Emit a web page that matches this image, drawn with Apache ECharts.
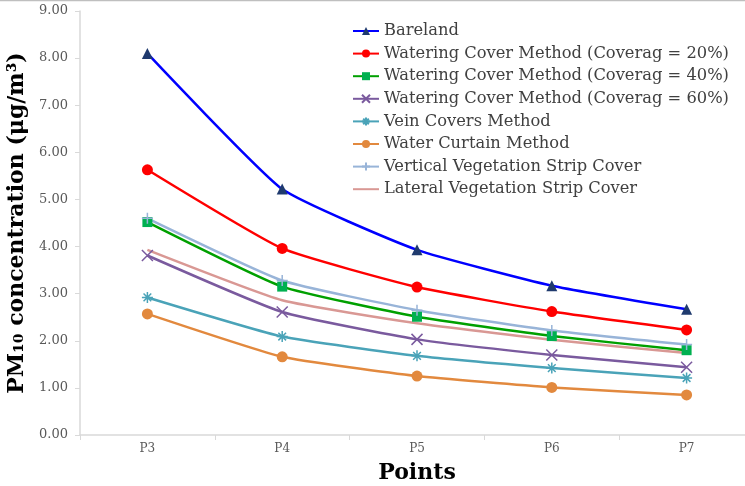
<!DOCTYPE html>
<html><head><meta charset="utf-8">
<script src="https://cdn.jsdelivr.net/npm/echarts@6/dist/echarts.min.js"></script>
<style>html,body{margin:0;padding:0;background:#fff}#c{width:745px;height:486px}</style>
</head><body><div id="c"></div>
<script>
const categories = ['P3','P4','P5','P6','P7'];
const yTicks = [0,1,2,3,4,5,6,7,8,9];
const bareland = [8.10, 5.22, 3.93, 3.17, 2.67];
const cover20 = [5.63, 3.96, 3.14, 2.62, 2.23];
const cover40 = [4.52, 3.15, 2.51, 2.10, 1.80];
const cover60 = [3.81, 2.61, 2.03, 1.70, 1.44];
const veinCovers = [2.92, 2.09, 1.68, 1.42, 1.21];
const waterCurtain = [2.57, 1.66, 1.25, 1.01, 0.85];
const verticalVeg = [4.60, 3.28, 2.65, 2.22, 1.92];
const lateralVeg = [3.93, 2.86, 2.37, 2.02, 1.74];
const seriesNames = ['Bareland','Watering Cover Method (Coverag = 20%)','Watering Cover Method (Coverag = 40%)','Watering Cover Method (Coverag = 60%)','Vein Covers Method','Water Curtain Method','Vertical Vegetation Strip Cover','Lateral Vegetation Strip Cover'];

const X_PATH = 'path://M0,0L10,10M10,0L0,10';
const STAR_PATH = 'path://M5,0L5,10M0,5L10,5M1.5,1.5L8.5,8.5M8.5,1.5L1.5,8.5';
const PLUS_PATH = 'path://M5,0L5,10M0,5L10,5';

function mk(name, data, lineColor, markerColor, symbol, size, stroke) {
  return {
    name, type: 'line', data, smooth: 0.15,
    symbol, symbolSize: size, showSymbol: size > 0,
    lineStyle: {color: lineColor, width: 2.5},
    itemStyle: stroke ? {color: markerColor, borderColor: markerColor, borderWidth: 1.5} : {color: markerColor, borderColor: markerColor, borderWidth: 0},
    z: 2
  };
}

const legendData = seriesNames.map((n, i) => i === 7 ? {name: n, itemStyle: {opacity: 0}} : {name: n});

const chart = echarts.init(document.getElementById('c'), null, {renderer: 'canvas'});
chart.setOption({
  animation: false,
  backgroundColor: '#fff',
  grid: {left: 80, right: -9, top: 11, bottom: 51, containLabel: false, outerBoundsMode: 'none'},
  graphic: [{type: 'line', shape: {x1: 0, y1: 0.5, x2: 745, y2: 0.5}, style: {stroke: '#bfbfbf', lineWidth: 1.5}}],
  legend: {
    orient: 'vertical', left: 352, top: 22, padding: 0,
    itemWidth: 26, itemHeight: 10, itemGap: 4.6,
    textStyle: {fontFamily: 'DejaVu Serif', fontSize: 16.3, color: '#404040', lineHeight: 18},
    data: legendData
  },
  xAxis: {
    type: 'category', data: categories, boundaryGap: true,
    axisLine: {lineStyle: {color: '#d9d9d9', width: 1.5}},
    axisTick: {show: true, length: 5, lineStyle: {color: '#d9d9d9'}},
    axisLabel: {fontFamily: 'DejaVu Serif', fontSize: 12, color: '#595959', margin: 8},
    name: 'Points', nameLocation: 'middle', nameGap: 27,
    nameTextStyle: {fontFamily: 'DejaVu Serif', fontWeight: 'bold', fontSize: 22, color: '#000'}
  },
  yAxis: {
    type: 'value', min: yTicks[0], max: yTicks[yTicks.length-1], interval: 1,
    axisLine: {show: true, lineStyle: {color: '#d9d9d9', width: 1.5}},
    axisTick: {show: true, length: 5, inside: false, lineStyle: {color: '#d9d9d9'}},
    splitLine: {show: false},
    axisLabel: {fontFamily: 'DejaVu Serif', fontSize: 13, color: '#595959', margin: 12, formatter: v => v.toFixed(2)},
    name: 'PM₁₀ concentration (μg/m³)', nameLocation: 'middle', nameGap: 38, nameRotate: 90,
    nameTextStyle: {fontFamily: 'DejaVu Serif', fontWeight: 'bold', fontSize: 22, color: '#000'}
  },
  series: [
    mk(seriesNames[0], bareland, '#0000ff', '#1f3a6e', 'triangle', 11),
    mk(seriesNames[1], cover20, '#ff0000', '#ff0000', 'circle', 11),
    mk(seriesNames[2], cover40, '#00a000', '#00b050', 'rect', 10),
    mk(seriesNames[3], cover60, '#7a5a9e', '#7a5a9e', X_PATH, 11, true),
    mk(seriesNames[4], veinCovers, '#4aa3b8', '#4aa3b8', STAR_PATH, 11, true),
    mk(seriesNames[5], waterCurtain, '#e2893e', '#e2893e', 'circle', 11),
    mk(seriesNames[6], verticalVeg, '#98b4d8', '#98b4d8', PLUS_PATH, 11, true),
    mk(seriesNames[7], lateralVeg, '#d99894', '#d99894', 'circle', 0)
  ]
});
</script></body></html>
